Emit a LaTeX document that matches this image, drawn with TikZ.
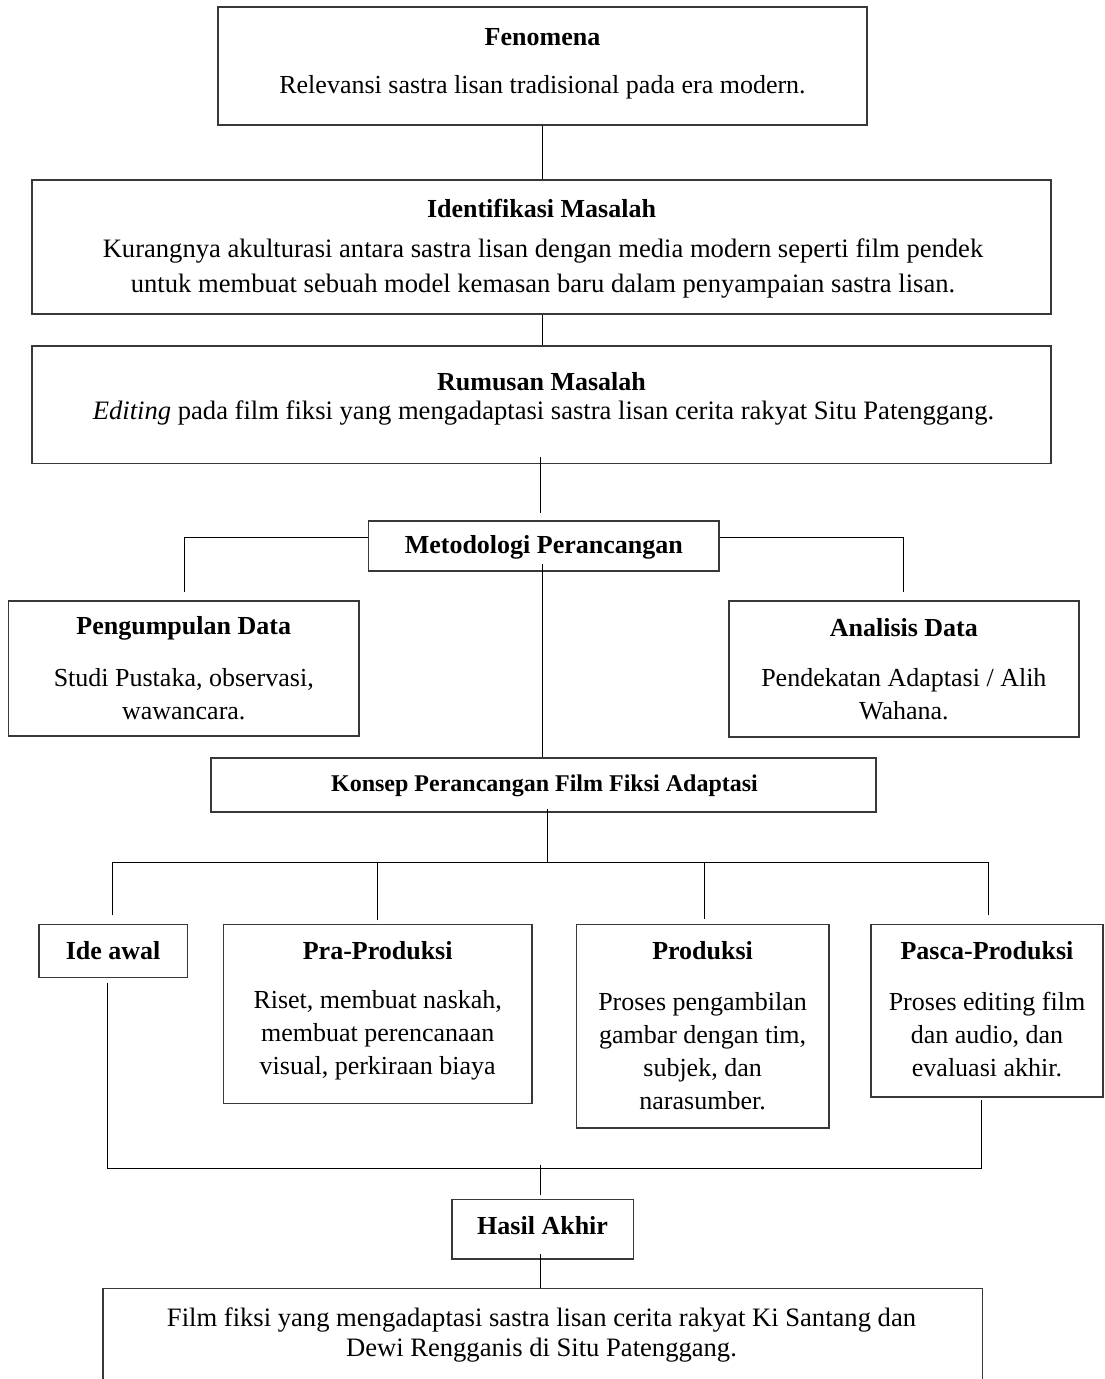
\documentclass[tikz,border=0pt]{standalone}
\usepackage{fontspec}
\setmainfont{Liberation Serif}
\usetikzlibrary{calc}
\tikzset{
  box/.style={draw=black!78, line width=1.6pt, inner sep=0pt, rectangle},
  conn/.style={draw=black, line width=1pt},
  ttl/.style={font=\fontsize{26}{33}\selectfont\bfseries, inner sep=0pt},
  txt/.style={font=\fontsize{26}{33}\selectfont, align=center, inner sep=0pt},
}
\begin{document}
\begin{tikzpicture}[x=1pt,y=-1pt]
\clip (0,0) rectangle (1105,1379);
\fill[white] (0,0) rectangle (1105,1379);
% boxes
\node[box, minimum width=649, minimum height=118] (fen) at (542.5,66) {};
\node[box, minimum width=1019, minimum height=134] (iden) at (541.5,247) {};
\node[box, minimum width=1019, minimum height=117.6] (rum) at (541.5,404.5) {};
\node[box, minimum width=350.4, minimum height=50.3] (met) at (543.8,545.9) {};
\node[box, minimum width=350.5, minimum height=135] (pen) at (183.75,668.2) {};
\node[box, minimum width=350.3, minimum height=136] (ana) at (903.85,668.7) {};
\node[box, minimum width=665.3, minimum height=54] (kon) at (543.35,784.7) {};
\node[box, minimum width=148.7, minimum height=53] (ide) at (113.15,950.8) {};
\node[box, minimum width=308.6, minimum height=179] (pra) at (377.7,1013.8) {};
\node[box, minimum width=252.2, minimum height=203.4] (prod) at (702.6,1026) {};
\node[box, minimum width=232, minimum height=172.4] (pasca) at (987,1010.5) {};
\node[box, minimum width=181.8, minimum height=59.7] (hasil) at (542.6,1229.15) {};
\node[box, minimum width=879.5, minimum height=111.7] (fin) at (542.65,1344.15) {};
% texts
\node[ttl] (fenT) at (542.5,37) {Fenomena};
\node[txt] (fenX) at (542.5,87) {Relevansi sastra lisan tradisional pada era modern.};
\node[ttl] (idenT) at (541.5,208) {Identifikasi Masalah};
\node[txt, font=\fontsize{26.6}{35}\selectfont] (idenX) at (543,269) {Kurangnya akulturasi antara sastra lisan dengan media modern seperti film pendek\\untuk membuat sebuah model kemasan baru dalam penyampaian sastra lisan.};
\node[ttl] (rumT) at (541.5,382) {Rumusan Masalah};
\node[txt, font=\fontsize{26.6}{33}\selectfont] (rumX) at (543.5,413) {\textit{Editing} pada film fiksi yang mengadaptasi sastra lisan cerita rakyat Situ Patenggang.};
\node[ttl] (metT) at (543.8,547.5) {Metodologi Perancangan};
\node[ttl] (penT) at (183.75,628) {Pengumpulan Data};
\node[txt] (penX) at (183.75,694.5) {Studi Pustaka, observasi,\\wawancara.};
\node[ttl] (anaT) at (903.85,628) {Analisis Data};
\node[txt] (anaX) at (903.85,694.5) {Pendekatan Adaptasi / Alih\\Wahana.};
\node[ttl, font=\fontsize{24}{28}\selectfont\bfseries] (konT) at (544.5,786) {Konsep Perancangan Film Fiksi Adaptasi};
\node[ttl] (ideT) at (113.15,951) {Ide awal};
\node[ttl] (praT) at (377.7,951) {Pra-Produksi};
\node[txt] (praX) at (377.7,1035) {Riset, membuat naskah,\\membuat perencanaan\\visual, perkiraan biaya};
\node[ttl] (prodT) at (702.6,951) {Produksi};
\node[txt] (prodX) at (702.6,1051.5) {Proses pengambilan\\gambar dengan tim,\\subjek, dan\\narasumber.};
\node[ttl] (pascaT) at (987,951) {Pasca-Produksi};
\node[txt] (pascaX) at (987,1035) {Proses editing film\\dan audio, dan\\evaluasi akhir.};
\node[ttl] (hasilT) at (542.6,1226) {Hasil Akhir};
\node[txt, font=\fontsize{26.6}{30}\selectfont] (finX) at (541.5,1335) {Film fiksi yang mengadaptasi sastra lisan cerita rakyat Ki Santang dan\\Dewi Rengganis di Situ Patenggang.};
% connectors
\draw[conn] (fen.south) -- (iden.north -| fen.south);
\draw[conn] ($(iden.south)+(1.1,0)$) -- ($(rum.north)+(1.1,0)$);
\draw[conn] ($(rum.south)+(-1,-7)$) -- ($(met.north)+(-3.3,-7.4)$);
\draw[conn] ($(met.west)+(0,-8.9)$) -| ($(pen.north)+(0.85,-7.7)$);
\draw[conn] ($(met.east)+(0,-8.9)$) -| ($(ana.north)+(-0.35,-7.7)$);
\draw[conn] ($(met.south)+(-1.2,-8)$) -- ($(kon.north)+(-0.75,0)$);
\coordinate (busT) at (547.6,862);
\draw[conn] ($(kon.south)+(4.25,-3.7)$) -- (busT);
\draw[conn] ($(ide.north)+(-0.35,-8.3)$) |- (busT) -| ($(pasca.north)+(1.7,-8.3)$);
\draw[conn] ($(pra.north)+(-0.7,-3.3)$) -- ($(pra.north |- busT)+(-0.7,0)$);
\draw[conn] ($(prod.north)+(1.4,-5)$) -- ($(prod.north |- busT)+(1.4,0)$);
\coordinate (busB) at (540.5,1168);
\draw[conn] ($(ide.south)+(-6.15,4.4)$) |- (busB) -| ($(pasca.south)+(-5.3,2.3)$);
\draw[conn] ($(busB)+(0,-3)$) -- ($(hasil.north)+(-2.1,-3.6)$);
\draw[conn] ($(hasil.south)+(-2.1,-6)$) -- ($(fin.north)+(-2.15,0)$);
\end{tikzpicture}
\end{document}
